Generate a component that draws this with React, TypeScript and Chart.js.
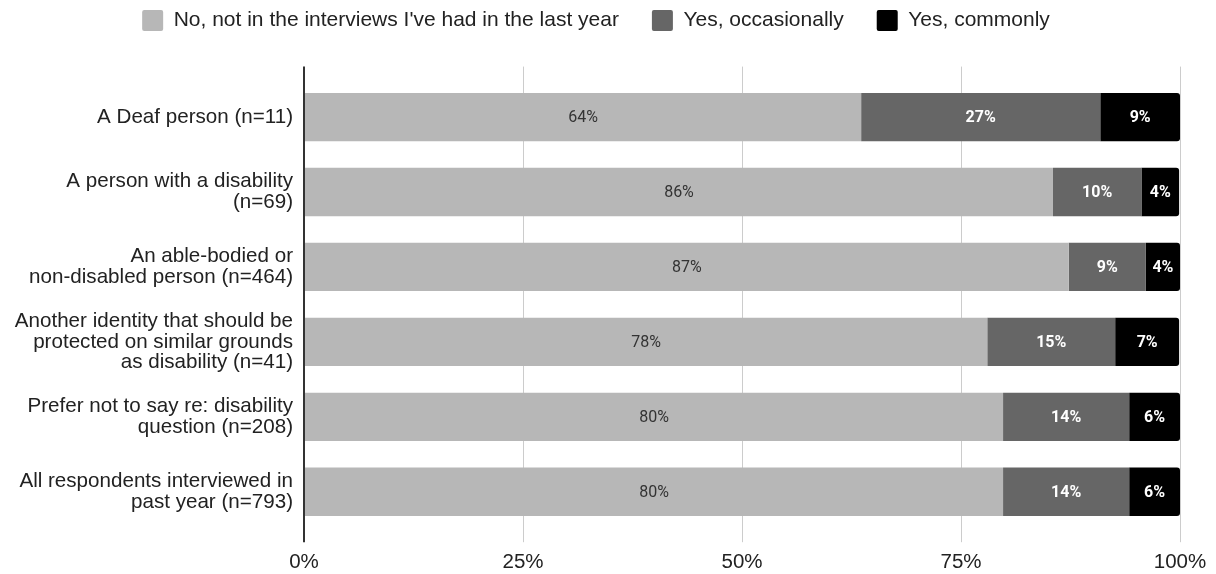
import React, { useEffect, useRef } from "react";
import { Chart, registerables } from "chart.js";

Chart.register(...registerables);

const categories: (string | string[])[] = [
  "A Deaf person (n=11)",
  ["A person with a disability", "(n=69)"],
  ["An able-bodied or", "non-disabled person (n=464)"],
  ["Another identity that should be", "protected on similar grounds", "as disability (n=41)"],
  ["Prefer not to say re: disability", "question (n=208)"],
  ["All respondents interviewed in", "past year (n=793)"],
];

const seriesNames = [
  "No, not in the interviews I've had in the last year",
  "Yes, occasionally",
  "Yes, commonly",
];

const noValues = [63.6, 85.5, 87.3, 78.0, 79.8, 79.8];
const occasionallyValues = [27.3, 10.1, 8.8, 14.6, 14.4, 14.4];
const commonlyValues = [9.1, 4.3, 3.9, 7.3, 5.8, 5.8];

const xTicks = [0, 25, 50, 75, 100];

const colors = ["#b7b7b7", "#666666", "#000000"];
const labelColors = ["#333333", "#ffffff", "#ffffff"];
const labelWeights = ["normal", "bold", "bold"];

const AXIS_FONT = "'Liberation Sans', Arial, sans-serif";

const barLabelPlugin = {
  id: "barLabels",
  afterDatasetsDraw(chart: any) {
    const ctx = chart.ctx;
    ctx.save();
    ctx.textAlign = "center";
    ctx.textBaseline = "middle";
    chart.data.datasets.forEach((ds: any, di: number) => {
      const meta = chart.getDatasetMeta(di);
      if (meta.hidden) return;
      ctx.fillStyle = labelColors[di];
      ctx.font = `${labelWeights[di]} 16px Roboto, 'Noto Sans', sans-serif`;
      meta.data.forEach((el: any, i: number) => {
        const { x, y, base } = el.getProps(["x", "y", "base"], true);
        const v = ds.data[i];
        ctx.fillText(Math.round(v) + "%", (x + base) / 2, y + 1);
      });
    });
    ctx.restore();
  },
};

export default function App() {
  const ref = useRef<HTMLCanvasElement | null>(null);

  useEffect(() => {
    if (!ref.current) return;
    const gridColor = (c: any) => (c.tick && c.tick.value === 0 ? "#333333" : "#cccccc");
    const gridWidth = (c: any) => (c.tick && c.tick.value === 0 ? 2 : 1);
    const chart = new Chart(ref.current, {
      type: "bar",
      data: {
        labels: categories,
        datasets: [noValues, occasionallyValues, commonlyValues].map((d, i) => ({
          label: seriesNames[i],
          data: d,
          backgroundColor: colors[i],
          borderWidth: 0,
          borderRadius: i === 2 ? 3 : 0,
          barPercentage: 0.645,
          categoryPercentage: 1,
        })),
      },
      options: {
        indexAxis: "y",
        responsive: false,
        animation: false,
        devicePixelRatio: 1,
        layout: { padding: { left: 12, right: 36, top: 0, bottom: 0 } },
        plugins: {
          tooltip: { enabled: false },
          legend: {
            position: "top",
            labels: {
              boxWidth: 21,
              boxHeight: 21,
              padding: 33,
              useBorderRadius: true,
              borderRadius: 2,
              color: "#222222",
              font: { family: AXIS_FONT, size: 21 },
            },
          },
        },
        scales: {
          x: {
            type: "linear",
            position: "bottom",
            stacked: true,
            min: 0,
            max: 100,
            afterBuildTicks: (s: any) => {
              s.ticks = xTicks.map((v) => ({ value: v }));
            },
            ticks: {
              color: "#222222",
              padding: 8,
              font: { family: AXIS_FONT, size: 20.5 },
              callback: (v: any) => v + "%",
            },
            grid: {
              color: gridColor,
              lineWidth: gridWidth,
              drawTicks: true,
              tickLength: 13,
            },
            border: { display: false },
            afterFit: (s: any) => {
              s.height = 44.8;
            },
          },
          x2: {
            type: "linear",
            position: "top",
            min: 0,
            max: 100,
            afterBuildTicks: (s: any) => {
              s.ticks = xTicks.map((v) => ({ value: v }));
            },
            ticks: { display: false },
            grid: {
              color: gridColor,
              lineWidth: gridWidth,
              drawOnChartArea: false,
              drawTicks: true,
              tickLength: 13,
            },
            border: { display: false },
            afterFit: (s: any) => {
              s.height = 38.6;
            },
          },
          y: {
            stacked: true,
            grid: { display: false, drawTicks: false },
            border: { display: false },
            ticks: {
              color: "#222222",
              padding: 11,
              font: { family: AXIS_FONT, size: 20.6, lineHeight: 1.0 },
            },
            afterFit: (s: any) => {
              s.width = 292;
            },
          },
        },
      },
      plugins: [barLabelPlugin],
    } as any);
    return () => chart.destroy();
  }, []);

  return (
    <div style={{ position: "absolute", left: 0, top: -23, width: 1216, height: 597 }}>
      <canvas ref={ref} width={1216} height={597} style={{ display: "block" }} />
    </div>
  );
}
